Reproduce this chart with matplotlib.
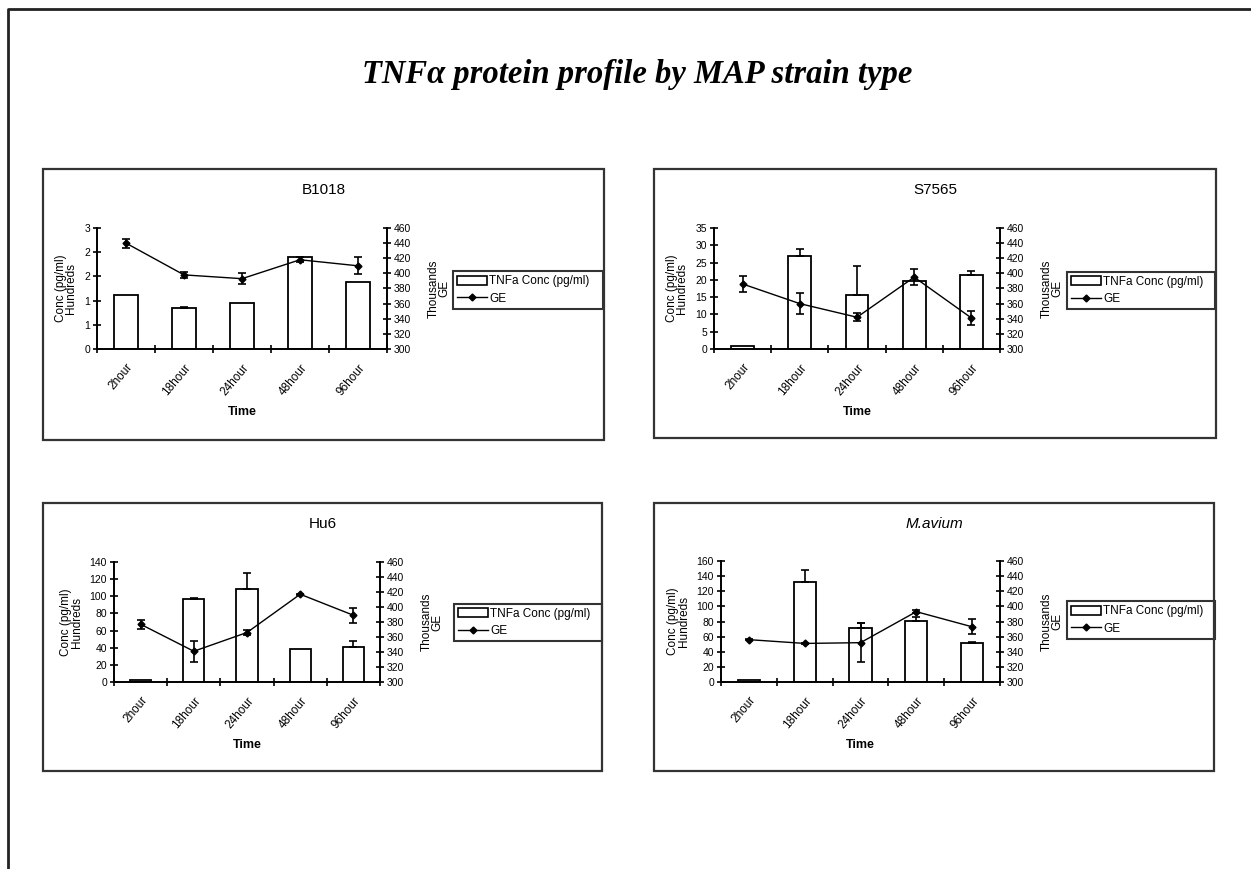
import numpy as np
import matplotlib
matplotlib.use("Agg")
import matplotlib.pyplot as plt
from matplotlib.lines import Line2D
from matplotlib.patches import Rectangle, Patch

plt.rcParams['font.family'] = ['Liberation Sans', 'DejaVu Sans']

# ---------------- data ----------------
time_labels = ["2hour", "18hour", "24hour", "48hour", "96hour"]
strains = ["B1018", "S7565", "Hu6", "M.avium"]

# TNFa concentration (pg/ml, hundreds)
conc_b1018 = [1.34, 1.01, 1.15, 2.27, 1.66]
conc_err_b1018 = [0, 0.03, 0, 0, 0]
conc_s7565 = [1.0, 26.8, 15.7, 19.8, 21.5]
conc_err_s7565 = [0, 2.1, 8.4, 0, 1.0]
conc_hu6 = [2, 97, 108, 39, 41]
conc_err_hu6 = [0, 1, 19, 0, 7]
conc_mavium = [2, 132, 71, 81, 51.6]
conc_err_mavium = [0, 16, 7, 5, 1]

# GE (thousands)
ge_b1018 = [440, 398, 393, 418, 410]
ge_err_b1018 = [6, 4, 7, 3, 11]
ge_s7565 = [386, 360, 342, 395, 341]
ge_err_s7565 = [10, 14, 5, 11, 9]
ge_hu6 = [377, 341, 366, 417, 389]
ge_err_hu6 = [6, 14, 3, 1, 10]
ge_mavium = [356, 351, 352, 393, 373]
ge_err_mavium = [1, 1, 26, 2, 10]

# left axis ticks / labels
lticks_b1018 = [0, 0.6, 1.2, 1.8, 2.4, 3.0]
llabels_b1018 = ["0", "1", "1", "2", "2", "3"]
lticks_s7565 = [0, 5, 10, 15, 20, 25, 30, 35]
lticks_hu6 = [0, 20, 40, 60, 80, 100, 120, 140]
lticks_mavium = [0, 20, 40, 60, 80, 100, 120, 140, 160]
rticks = [300, 320, 340, 360, 380, 400, 420, 440, 460]

W, H = 1251, 869
fig = plt.figure(figsize=(W / 100, H / 100), dpi=100)
fig.patch.set_facecolor('white')

def fx(px):
    return px / W

def fy(py):
    return 1 - py / H

# outer frame (left and top)
fig.add_artist(Line2D([fx(8), fx(8), fx(1251)], [fy(869), fy(9), fy(9)],
                      color='#222222', lw=2.0, transform=fig.transFigure))

fig.text(fx(637), fy(75), "TNF\u03b1 protein profile by MAP strain type",
         family=['Liberation Serif', 'DejaVu Serif'], fontsize=23.5,
         fontweight='bold', style='italic', ha='center', va='center')

panels = [
    dict(name="B1018", conc=conc_b1018, cerr=conc_err_b1018, ge=ge_b1018,
         gerr=ge_err_b1018, lt=lticks_b1018, ll=llabels_b1018, ymax=3.0,
         box=(43, 169, 604, 440), ax=(97, 228, 387, 349), leg=(453, 269, 603, 311),
         italic=False),
    dict(name="S7565", conc=conc_s7565, cerr=conc_err_s7565, ge=ge_s7565,
         gerr=ge_err_s7565, lt=lticks_s7565, ll=[str(t) for t in lticks_s7565], ymax=35,
         box=(654, 169, 1216, 438), ax=(714, 228, 1000, 349), leg=(1067, 270, 1215, 311),
         italic=False),
    dict(name="Hu6", conc=conc_hu6, cerr=conc_err_hu6, ge=ge_hu6,
         gerr=ge_err_hu6, lt=lticks_hu6, ll=[str(t) for t in lticks_hu6], ymax=140,
         box=(43, 503, 602, 771), ax=(114, 562, 380, 682), leg=(454, 602, 602, 643),
         italic=False),
    dict(name="M.avium", conc=conc_mavium, cerr=conc_err_mavium, ge=ge_mavium,
         gerr=ge_err_mavium, lt=lticks_mavium, ll=[str(t) for t in lticks_mavium], ymax=160,
         box=(654, 503, 1214, 771), ax=(721, 561, 1000, 682), leg=(1067, 599, 1215, 641),
         italic=True),
]

tick_fs = 7.5
for p in panels:
    bx0, by0, bx1, by1 = p['box']
    fig.add_artist(Rectangle((fx(bx0), fy(by1)), fx(bx1) - fx(bx0), fy(by0) - fy(by1),
                             fill=False, edgecolor='#333333', lw=1.6,
                             transform=fig.transFigure))
    fig.text(fx((bx0 + bx1) / 2), fy(by0 + 21), p['name'], ha='center', va='center',
             fontsize=11, style='italic' if p['italic'] else 'normal')

    ax0, ay0, ax1, ay1 = p['ax']
    ax = fig.add_axes([fx(ax0), fy(ay1), fx(ax1) - fx(ax0), fy(ay0) - fy(ay1)])
    ax.set_facecolor('none')
    x = np.arange(len(time_labels)) + 0.5
    conc = np.array(p['conc'], dtype=float)
    cerr = np.array(p['cerr'], dtype=float)
    ax.bar(x, conc, width=0.4, color='white', edgecolor='black', lw=1.3, zorder=2)
    mask = cerr > 0
    ax.errorbar(x[mask], conc[mask], yerr=[np.zeros(mask.sum()), cerr[mask]],
                fmt='none', ecolor='black', elinewidth=1.2, capsize=3, capthick=1.2, zorder=3)
    ax.set_xlim(0, 5)
    ax.set_ylim(0, p['ymax'])
    ax.set_yticks(p['lt'])
    ax.set_yticklabels(p['ll'], fontsize=tick_fs)
    ax.set_xticks(range(6))
    ax.set_xticklabels([])
    ax.set_xticks(x, minor=True)
    ax.set_xticklabels(time_labels, minor=True, rotation=50, ha='right',
                       rotation_mode='anchor', fontsize=8.5)
    ax.tick_params(axis='x', which='minor', length=0, pad=9)
    ax.tick_params(axis='x', which='major', direction='inout', length=6, width=1.2)
    ax.tick_params(axis='y', direction='inout', length=6, width=1.2, pad=2)
    for s in ['top', 'right']:
        ax.spines[s].set_visible(False)
    for s in ['left', 'bottom']:
        ax.spines[s].set_linewidth(1.4)
    ax.set_ylabel("Conc (pg/ml)\nHundreds", fontsize=8.5, labelpad=5, linespacing=0.85)
    ax.set_xlabel("Time", fontsize=9, fontweight='bold', labelpad=6)

    a2 = ax.twinx()
    a2.errorbar(x, p['ge'], yerr=p['gerr'], color='black', lw=1.0, marker='D', ms=3.5,
                ecolor='black', elinewidth=1.2, capsize=3, capthick=1.2, zorder=4)
    a2.set_ylim(300, 460)
    a2.set_yticks(rticks)
    a2.set_yticklabels([str(t) for t in rticks], fontsize=tick_fs)
    a2.tick_params(axis='y', direction='inout', length=6, width=1.2, pad=2)
    for s in ['top', 'left', 'bottom']:
        a2.spines[s].set_visible(False)
    a2.spines['right'].set_linewidth(1.4)
    a2.set_ylabel("Thousands\nGE", fontsize=8.5, labelpad=12, linespacing=0.85)

    lx0, ly0, lx1, ly1 = p['leg']
    handles = [Patch(facecolor='white', edgecolor='black', lw=1.2),
               Line2D([], [], color='black', lw=1.0, marker='D', ms=3.5)]
    leg = ax.legend(handles, ["TNFa Conc (pg/ml)", "GE"], loc='center left',
                    bbox_to_anchor=(fx(lx0), fy(ly1), fx(lx1) - fx(lx0), fy(ly0) - fy(ly1)),
                    bbox_transform=fig.transFigure, mode='expand', fontsize=8.5,
                    frameon=True, fancybox=False, edgecolor='black', borderpad=0.35,
                    handlelength=2.5, handleheight=0.8, handletextpad=0.2,
                    labelspacing=0.45, borderaxespad=0)
    leg.get_frame().set_linewidth(1.5)

fig.savefig("out.png", dpi=100, facecolor='white')
